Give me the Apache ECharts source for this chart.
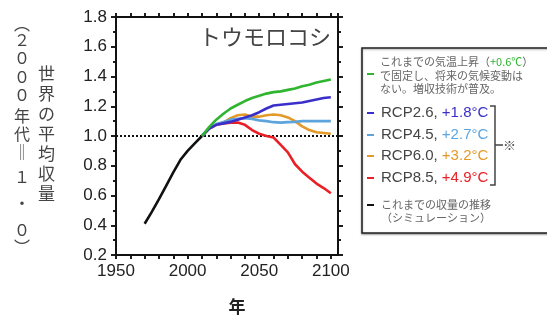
<!DOCTYPE html>
<html>
<head>
<meta charset="utf-8">
<script src="https://cdn.jsdelivr.net/npm/echarts@6/dist/echarts.min.js"></script>
<style>
  html, body { margin: 0; padding: 0; background: #fff; }
  #chart { width: 547px; height: 320px; }
</style>
</head>
<body>
<div id="chart"></div>
<script>
// Simulated global maize yield (2000s average = 1.0)
const histYears = [1970, 1975, 1980, 1985, 1990, 1995, 2000, 2005, 2010];
const histYield = [0.41, 0.49, 0.575, 0.665, 0.755, 0.84, 0.90, 0.95, 1.00];

const projYears = [2010, 2015, 2020, 2025, 2030, 2035, 2040, 2045, 2050, 2055,
                   2060, 2065, 2070, 2075, 2080, 2085, 2090, 2095, 2100];
const fixedClimate = [1.00, 1.06, 1.11, 1.15, 1.185, 1.21, 1.235, 1.255, 1.27, 1.285,
                      1.295, 1.30, 1.31, 1.32, 1.335, 1.345, 1.36, 1.37, 1.38];
const rcp26 = [1.00, 1.05, 1.075, 1.085, 1.095, 1.11, 1.125, 1.14, 1.16, 1.185,
               1.205, 1.21, 1.215, 1.22, 1.225, 1.235, 1.245, 1.255, 1.26];
const rcp45 = [1.00, 1.05, 1.08, 1.095, 1.11, 1.115, 1.12, 1.115, 1.105, 1.10,
               1.093, 1.09, 1.093, 1.095, 1.10, 1.10, 1.10, 1.10, 1.10];
const rcp60 = [1.00, 1.05, 1.075, 1.09, 1.12, 1.14, 1.145, 1.13, 1.13, 1.14,
               1.145, 1.14, 1.125, 1.10, 1.065, 1.04, 1.025, 1.02, 1.015];
const rcp85 = [1.00, 1.05, 1.075, 1.085, 1.09, 1.09, 1.075, 1.04, 1.015, 1.00,
               0.99, 0.94, 0.89, 0.81, 0.76, 0.72, 0.68, 0.65, 0.615];

const colors = {
  fixed: '#2fb52f',
  rcp26: '#3a2fc8',
  rcp45: '#5ea4dc',
  rcp60: '#e39a2a',
  rcp85: '#ea2027',
  hist: '#111111'
};

const zip = (xs, ys) => xs.map((x, i) => [x, ys[i]]);
const jpFont = '"Noto Sans CJK JP", "Noto Sans", sans-serif';
const numFont = '"Liberation Sans", Arial, sans-serif';

function lineSeries(name, data, color, z) {
  return {
    name, type: 'line', data, showSymbol: false, symbol: 'none', z,
    lineStyle: { color, width: 2.6 }, animation: false
  };
}

// The frame comes from the grid border; axes contribute the outward ticks
const tickColor = 'rgb(30,30,30)';
const axisLineStyle = { show: true, onZero: false };
const tickStyle = (len) => ({ show: true, length: len, lineStyle: { color: tickColor, width: 2 } });
const minorStyle = { show: true, splitNumber: 2, length: 3, lineStyle: { color: tickColor, width: 2 } };

const chart = echarts.init(document.getElementById('chart'));

// Vertical axis title columns
const colName = '世界の平均収量'.split('');
const colNote = ['︵', '２', '０', '０', '０', '年', '代', '‖', '１', '・', '０', '︶'];
const colNoteY = [24, 40, 58, 77, 95, 116, 134, 152, 177, 203, 230, 247];

const graphics = [];
colName.forEach((c, i) => graphics.push({
  type: 'text', left: 38, top: 65 + i * 20,
  style: { text: c, font: '17px ' + jpFont, fill: '#444' }
}));
colNote.forEach((c, i) => graphics.push({
  type: 'text', x: 22, y: colNoteY[i],
  style: { text: c, font: '16px ' + jpFont, fill: '#444', align: 'center', verticalAlign: 'middle' }
}));

// Legend panel
graphics.push({
  type: 'rect', shape: { x: 362, y: 48, width: 230, height: 185 },
  style: { fill: '#fff', stroke: '#222', lineWidth: 1.5, shadowBlur: 2, shadowColor: 'rgba(0,0,0,0.35)', shadowOffsetY: 1 }
});
const dash = (y, color) => ({
  type: 'line', shape: { x1: 367, y1: y, x2: 374, y2: y },
  style: { stroke: color, lineWidth: 2 }
});
const smallJP = '11px ' + jpFont;
graphics.push(dash(74, colors.fixed));
graphics.push({
  type: 'text', x: 380, y: 62,
  style: {
    text: '{a|これまでの気温上昇（}{g|+0.6℃}{a|）}',
    verticalAlign: 'middle',
    rich: {
      a: { font: smallJP, fill: '#666' },
      g: { font: smallJP, fill: colors.fixed }
    }
  }
});
graphics.push({ type: 'text', x: 380, y: 75.5, style: { text: 'で固定し、将来の気候変動は', font: smallJP, fill: '#666', verticalAlign: 'middle' } });
graphics.push({ type: 'text', x: 380, y: 89, style: { text: 'ない。増収技術が普及。', font: smallJP, fill: '#666', verticalAlign: 'middle' } });

const rcpRows = [
  ['RCP2.6, ', '+1.8°C', colors.rcp26, 113],
  ['RCP4.5, ', '+2.7°C', colors.rcp45, 135],
  ['RCP6.0, ', '+3.2°C', colors.rcp60, 156],
  ['RCP8.5, ', '+4.9°C', colors.rcp85, 178]
];
rcpRows.forEach(([lab, temp, color, y]) => {
  graphics.push(dash(y, color));
  graphics.push({
    type: 'text', x: 381, y,
    style: {
      text: '{a|' + lab + '}{b|' + temp + '}',
      verticalAlign: 'middle',
      rich: {
        a: { font: '15px ' + numFont, fill: '#444' },
        b: { font: '15px ' + numFont, fill: color }
      }
    }
  });
});
graphics.push({
  type: 'polyline', shape: { points: [[490, 106], [495, 106], [495, 185], [490, 185]] },
  style: { stroke: '#444', lineWidth: 1.5, fill: null }
});
graphics.push({
  type: 'line', shape: { x1: 495, y1: 145, x2: 503, y2: 145 },
  style: { stroke: '#444', lineWidth: 1.5 }
});
graphics.push({ type: 'text', x: 503, y: 145, style: { text: '※', font: '13px ' + jpFont, fill: '#555', verticalAlign: 'middle' } });

graphics.push(dash(205, colors.hist));
graphics.push({ type: 'text', x: 381, y: 205, style: { text: 'これまでの収量の推移', font: smallJP, fill: '#666', verticalAlign: 'middle' } });
graphics.push({ type: 'text', x: 381, y: 218, style: { text: '（シミュレーション）', font: smallJP, fill: '#666', verticalAlign: 'middle' } });

// Plot title and x-axis name
graphics.push({ type: 'text', x: 331, y: 37, style: { text: 'トウモロコシ', font: '22px ' + jpFont, fill: '#444', align: 'right', verticalAlign: 'middle' } });
graphics.push({ type: 'text', x: 237, y: 307, style: { text: '年', font: 'bold 17px ' + jpFont, fill: '#222', align: 'center', verticalAlign: 'middle' } });

const yearLabel = v => (v % 50 === 0 && v <= 2100) ? String(v) : '';

const option = {
  animation: false,
  backgroundColor: '#fff',
  grid: {
    left: 116, right: 209, top: 17, bottom: 65, containLabel: false, z: 3,
    show: true, borderColor: '#111', borderWidth: 2, backgroundColor: 'transparent'
  },
  xAxis: [
    {
      type: 'value', min: 1950, max: 2105, interval: 10, position: 'bottom',
      axisLine: axisLineStyle, splitLine: { show: false },
      axisTick: tickStyle(4),
      axisLabel: { color: '#222', fontSize: 17, fontFamily: numFont, margin: 8, formatter: yearLabel, showMaxLabel: false }
    },
    {
      type: 'value', min: 1950, max: 2105, interval: 10, position: 'top',
      axisLine: axisLineStyle, splitLine: { show: false },
      axisTick: tickStyle(4),
      axisLabel: { show: false }
    }
  ],
  yAxis: [
    {
      type: 'value', min: 0.2, max: 1.8, interval: 0.2, position: 'left',
      axisLine: axisLineStyle, splitLine: { show: false },
      axisTick: tickStyle(5),
      minorTick: minorStyle,
      axisLabel: { color: '#222', fontSize: 17, fontFamily: numFont, margin: 9, formatter: v => v.toFixed(1) }
    },
    {
      type: 'value', min: 0.2, max: 1.8, interval: 0.2, position: 'right',
      axisLine: axisLineStyle, splitLine: { show: false },
      axisTick: tickStyle(5),
      minorTick: minorStyle,
      axisLabel: { show: false }
    }
  ],
  series: [
    Object.assign(lineSeries('これまでの収量の推移', zip(histYears, histYield), colors.hist, 5), {
      markLine: {
        silent: true, symbol: 'none', label: { show: false },
        lineStyle: { color: '#111', width: 2, type: [2, 2] },
        data: [{ yAxis: 1.0 }]
      }
    }),
    lineSeries('RCP8.5', zip(projYears, rcp85), colors.rcp85, 6),
    lineSeries('RCP6.0', zip(projYears, rcp60), colors.rcp60, 7),
    lineSeries('RCP4.5', zip(projYears, rcp45), colors.rcp45, 8),
    lineSeries('RCP2.6', zip(projYears, rcp26), colors.rcp26, 9),
    lineSeries('+0.6℃', zip(projYears, fixedClimate), colors.fixed, 10)
  ],
  graphic: graphics
};

chart.setOption(option);
</script>
</body>
</html>
